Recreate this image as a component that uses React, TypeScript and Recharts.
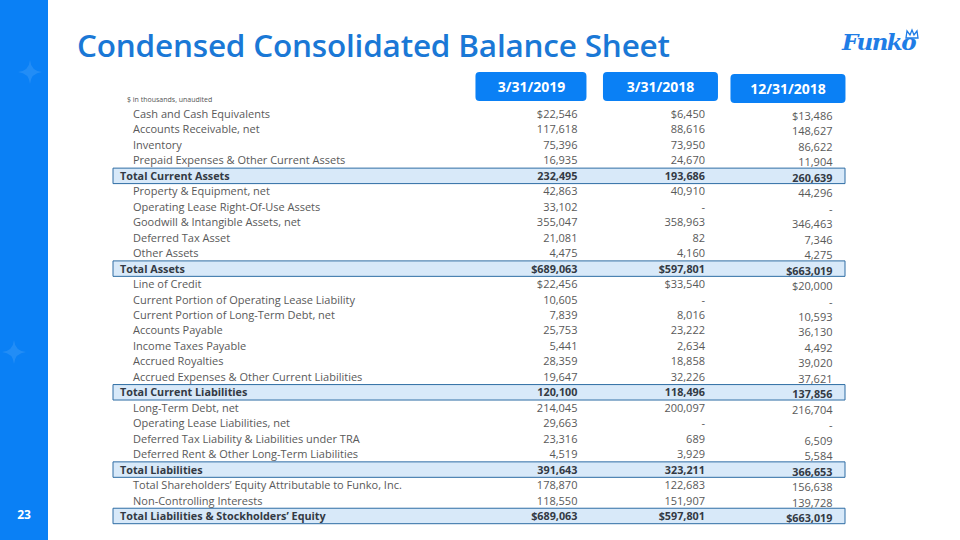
import React from "react";
import { ScatterChart, Scatter, XAxis, YAxis, ReferenceArea } from "recharts";

const ROWS = [
  "Cash and Cash Equivalents",
  "Accounts Receivable, net",
  "Inventory",
  "Prepaid Expenses & Other Current Assets",
  "Total Current Assets",
  "Property & Equipment, net",
  "Operating Lease Right-Of-Use Assets",
  "Goodwill & Intangible Assets, net",
  "Deferred Tax Asset",
  "Other Assets",
  "Total Assets",
  "Line of Credit",
  "Current Portion of Operating Lease Liability",
  "Current Portion of Long-Term Debt, net",
  "Accounts Payable",
  "Income Taxes Payable",
  "Accrued Royalties",
  "Accrued Expenses & Other Current Liabilities",
  "Total Current Liabilities",
  "Long-Term Debt, net",
  "Operating Lease Liabilities, net",
  "Deferred Tax Liability & Liabilities under TRA",
  "Deferred Rent & Other Long-Term Liabilities",
  "Total Liabilities",
  "Total Shareholders\u2019 Equity Attributable to Funko, Inc.",
  "Non-Controlling Interests",
  "Total Liabilities & Stockholders\u2019 Equity",
];

const TOTAL_ROWS = [
  "Total Current Assets",
  "Total Assets",
  "Total Current Liabilities",
  "Total Liabilities",
  "Total Liabilities & Stockholders\u2019 Equity",
];

const DOLLAR_ROWS = [
  "Cash and Cash Equivalents",
  "Total Assets",
  "Line of Credit",
  "Total Liabilities & Stockholders\u2019 Equity",
];

const PERIODS = ["3/31/2019", "3/31/2018", "12/31/2018"];

// $ in thousands, null = "-"
const MAR_2019 = [
  22546, 117618, 75396, 16935, 232495, 42863, 33102, 355047, 21081, 4475, 689063,
  22456, 10605, 7839, 25753, 5441, 28359, 19647, 120100, 214045, 29663, 23316, 4519,
  391643, 178870, 118550, 689063,
];
const MAR_2018 = [
  6450, 88616, 73950, 24670, 193686, 40910, null, 358963, 82, 4160, 597801,
  33540, null, 8016, 23222, 2634, 18858, 32226, 118496, 200097, null, 689, 3929,
  323211, 122683, 151907, 597801,
];
const DEC_2018 = [
  13486, 148627, 86622, 11904, 260639, 44296, null, 346463, 7346, 4275, 663019,
  20000, null, 10593, 36130, 4492, 39020, 37621, 137856, 216704, null, 6509, 5584,
  366653, 156638, 139728, 663019,
];

const SERIES = [MAR_2019, MAR_2018, DEC_2018];

const BLUE = "#0a80f5";
const TEXT = "#595959";
const TOTAL_TEXT = "#333a44";
const FONT = "'Open Sans', sans-serif";
const COL_DY = [0, 0, 2];

function fmt(row: string, v: number | null): string {
  if (v == null) return "-";
  const s = v.toLocaleString("en-US");
  return DOLLAR_ROWS.includes(row) ? `$${s}` : s;
}

function HeaderTick(props: any) {
  const { x, payload } = props;
  const i = Number(payload.value);
  const dy = COL_DY[i] ?? 0;
  return (
    <g>
      <rect x={x - 56} y={72 + dy} width={i === 0 ? 111 : 115} height={29} rx={4} fill={BLUE} />
      <text
        x={x + (i === 0 ? 0 : 1.5)}
        y={92 + dy}
        textAnchor="middle"
        fill="#ffffff"
        fontFamily={FONT}
        fontWeight={700}
        fontSize={14}
      >
        {PERIODS[i]}
      </text>
    </g>
  );
}

function RowTick(props: any) {
  const { y, payload } = props;
  const isTotal = TOTAL_ROWS.includes(payload.value);
  return (
    <text
      x={isTotal ? 120 : 133}
      y={y + 4}
      textAnchor="start"
      fill={isTotal ? TOTAL_TEXT : TEXT}
      fontFamily={FONT}
      fontWeight={isTotal ? 700 : 400}
      fontSize={isTotal ? 10.8 : 11}
    >
      {payload.value}
    </text>
  );
}

function makeCell(col: number) {
  return (props: any) => {
    const { cx, cy, payload } = props;
    const isTotal = TOTAL_ROWS.includes(payload.row);
    return (
      <text
        x={cx + 46}
        y={cy + 4 + COL_DY[col]}
        textAnchor="end"
        fill={isTotal ? TOTAL_TEXT : TEXT}
        fontFamily={FONT}
        fontWeight={isTotal ? 700 : 400}
        fontSize={isTotal ? 10.8 : 11}
      >
        {fmt(payload.row, payload.value)}
      </text>
    );
  };
}

function Star({ x, y, s }: { x: number; y: number; s: number }) {
  return (
    <path
      d={`M${x} ${y - s} Q${x + 1} ${y - 1} ${x + s} ${y} Q${x + 1} ${y + 1} ${x} ${y + s} Q${x - 1} ${y + 1} ${x - s} ${y} Q${x - 1} ${y - 1} ${x} ${y - s}Z`}
      fill="#ffffff"
      opacity={0.1}
    />
  );
}

export default function App() {
  const data = SERIES.map((values, col) =>
    ROWS.map((row, i) => ({ row, col, value: values[i] }))
  );

  return (
    <div
      style={{
        position: "absolute",
        left: 0,
        top: 0,
        width: 960,
        height: 540,
        background: "#ffffff",
        overflow: "hidden",
        fontFamily: FONT,
      }}
    >
      <div style={{ position: "absolute", left: 0, top: 0, width: 48, height: 540, background: BLUE }} />
      <svg style={{ position: "absolute", left: 0, top: 0 }} width={48} height={540}>
        <Star x={30} y={72} s={12} />
        <Star x={14} y={352} s={12} />
      </svg>
      <div
        style={{
          position: "absolute",
          left: 0,
          top: 506,
          width: 48,
          textAlign: "center",
          color: "#ffffff",
          fontWeight: 700,
          fontSize: 12,
        }}
      >
        23
      </div>
      <div
        style={{
          position: "absolute",
          left: 77,
          top: 23,
          color: "#1a78d6",
          fontSize: 31.5,
          fontWeight: 600,
          letterSpacing: -0.2,
          whiteSpace: "nowrap",
        }}
      >
        Condensed Consolidated Balance Sheet
      </div>
      <div
        style={{
          position: "absolute",
          left: 842,
          top: 28,
          color: "#1f7de6",
          fontSize: 23,
          fontWeight: 800,
          fontStyle: "italic",
          fontFamily: "'DejaVu Serif', serif",
          letterSpacing: -1.5,
        }}
      >
        Funko
      </div>
      <svg style={{ position: "absolute", left: 904, top: 28 }} width={16} height={12}>
        <path d="M2 10 L3 3 L6 7 L8 2 L10 7 L13 3 L14 10 Z" fill="none" stroke="#1f7de6" strokeWidth={1.3} />
      </svg>
      <div
        style={{
          position: "absolute",
          left: 127,
          top: 95,
          color: "#555555",
          fontSize: 7,
          whiteSpace: "nowrap",
        }}
      >
        $ in thousands, unaudited
      </div>
      <div style={{ position: "absolute", left: 0, top: 0 }}>
        <ScatterChart
          width={960}
          height={540}
          margin={{ top: 76.3, right: 115, bottom: 16.3, left: 113 }}
        >
          <XAxis
            xAxisId={0}
            type="number"
            dataKey="col"
            orientation="top"
            domain={[-3.282, 2.459]}
            ticks={[0, 1, 2]}
            height={30}
            axisLine={false}
            tickLine={false}
            tick={<HeaderTick />}
            interval={0}
          />
          <YAxis
            yAxisId={0}
            type="category"
            dataKey="row"
            allowDuplicatedCategory={false}
            reversed
            mirror
            axisLine={false}
            tickLine={false}
            interval={0}
            tick={<RowTick />}
          />
          {TOTAL_ROWS.map((r) => (
            <ReferenceArea
              key={r}
              y1={r}
              y2={r}
              fill="#d8e9f9"
              fillOpacity={1}
              stroke="#2e6da4"
              strokeWidth={1}
              ifOverflow="visible"
            />
          ))}
          {data.map((d, col) => (
            <Scatter
              key={PERIODS[col]}
              name={PERIODS[col]}
              data={d}
              shape={makeCell(col)}
              isAnimationActive={false}
            />
          ))}
        </ScatterChart>
      </div>
    </div>
  );
}
